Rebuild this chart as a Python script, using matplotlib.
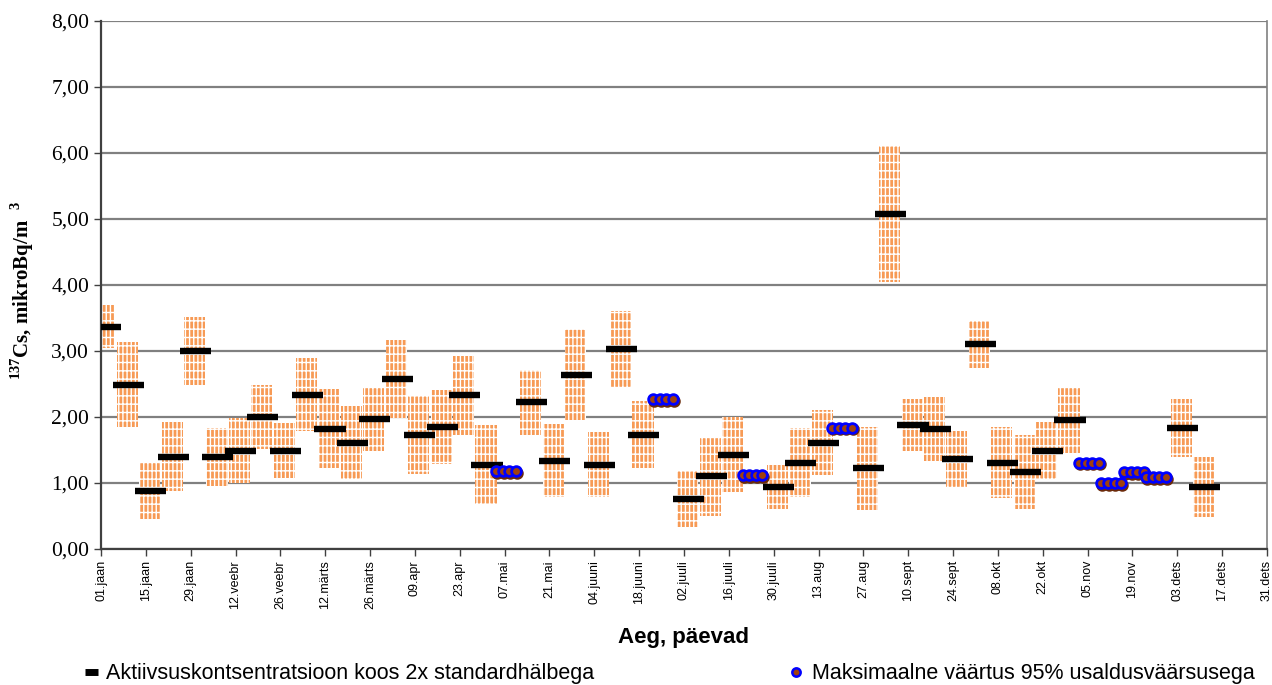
import matplotlib
matplotlib.use("Agg")
import matplotlib.pyplot as plt
from matplotlib.patches import Rectangle
from matplotlib.lines import Line2D

plt.rcParams["hatch.linewidth"] = 1.0
plt.rcParams["mathtext.fontset"] = "custom"
plt.rcParams["mathtext.rm"] = "Liberation Serif:bold"

# weekly samples: first day of sampling week (day of year, 0 = 1 Jan)
meas_start = [0, 7, 14, 21, 28, 35, 42, 49, 56, 63, 70, 77, 84, 91, 98, 105, 112, 119,
              133, 140, 147, 154, 161, 168, 182, 189, 196, 210, 217, 224, 238, 245,
              252, 259, 266, 273, 280, 287, 294, 301, 336, 343]
meas_value = [3.37, 2.49, 0.88, 1.40, 3.00, 1.40, 1.49, 2.00, 1.49, 2.34, 1.82, 1.61,
              1.97, 2.58, 1.73, 1.85, 2.33, 1.28, 2.22, 1.34, 2.64, 1.28, 3.03, 1.73,
              0.76, 1.10, 1.43, 0.94, 1.31, 1.61, 1.22, 5.07, 1.88, 1.82, 1.36, 3.10,
              1.31, 1.16, 1.49, 1.95, 1.83, 0.94]
meas_2sd = [0.33, 0.64, 0.43, 0.52, 0.52, 0.44, 0.49, 0.49, 0.42, 0.55, 0.60, 0.55,
            0.49, 0.59, 0.59, 0.56, 0.60, 0.60, 0.49, 0.55, 0.69, 0.49, 0.58, 0.51,
            0.42, 0.60, 0.57, 0.33, 0.52, 0.49, 0.63, 1.03, 0.40, 0.49, 0.43, 0.36,
            0.54, 0.56, 0.43, 0.49, 0.44, 0.46]

# weeks below detection limit: maximum value at 95 % confidence
max_start = [126, 175, 203, 231, 308, 315, 322, 329]
max_value = [1.18, 2.27, 1.12, 1.84, 1.31, 1.00, 1.16, 1.09]

tick_days = list(range(0, 365, 14))
tick_labels = ["01.jaan", "15.jaan", "29.jaan", "12.veebr", "26.veebr", "12.märts",
               "26.märts", "09.apr", "23.apr", "07.mai", "21.mai", "04.juuni",
               "18.juuni", "02.juuli", "16.juuli", "30.juuli", "13.aug", "27.aug",
               "10.sept", "24.sept", "08.okt", "22.okt", "05.nov", "19.nov",
               "03.dets", "17.dets", "31.dets"]

orange = "#F79A55"
blue = "#0000FF"
brown = "#A0400F"

fig = plt.figure(figsize=(12.72, 6.85), dpi=100)
ax = fig.add_axes([101 / 1272, 1 - 549 / 685, 1166 / 1272, 528 / 685])

# 2x standard deviation boxes
for d, v, e in zip(meas_start, meas_value, meas_2sd):
    box = Rectangle((d + 1.2 - 3.3, v - e), 6.6, 2 * e, facecolor=orange,
                    edgecolor="white", linewidth=0, hatch="||||--", zorder=2)
    ax.add_patch(box)

# measured activity concentration
bar_x0 = [d + 1.5 - 4.85 for d in meas_start]
bar_x1 = [d + 1.5 + 4.85 for d in meas_start]
ax.hlines(meas_value, bar_x0, bar_x1, colors="black", linewidth=4.6, zorder=3,
          capstyle="butt")

# maximum values drawn as a short chain of circles across the week
for d, v in zip(max_start, max_value):
    xs = [d + 0.4 + off for off in (-3.1, -1.0, 1.0, 3.1)]
    ax.plot([x + 0.3 for x in xs], [v - 0.025] * 4, "o", ms=7, mfc="#6B2A0A",
            mec="#6B2A0A", mew=2.0, zorder=4)
    ax.plot(xs, [v] * 4, "o", ms=7, mfc=brown, mec=blue, mew=2.0, zorder=5)

ax.set_xlim(0, 364)
ax.set_ylim(0, 8)
ax.set_yticks(range(0, 9))
ax.set_yticklabels([f"{i},00" for i in range(0, 9)], family="Liberation Serif",
                   fontsize=15.5)
ax.set_xticks(tick_days)
ax.set_xticklabels(tick_labels, rotation=90, family="Liberation Sans", fontsize=9)
ax.tick_params(axis="both", direction="out", length=5, color="#404040", width=1)
ax.tick_params(axis="x", pad=3)

ax.grid(axis="y", color="#808080", linewidth=1.6, zorder=1)
ax.set_axisbelow(True)
for side in ("left", "bottom"):
    ax.spines[side].set_color("#404040")
    ax.spines[side].set_linewidth(1.6)
ax.spines["right"].set_color("#808080")
ax.spines["right"].set_linewidth(1.2)
ax.spines["top"].set_visible(False)

ax.set_xlabel("Aeg, päevad", family="Liberation Sans", fontweight="bold",
              fontsize=16, labelpad=13)
ax.set_ylabel(r"$^{137}$Cs, mikroBq/m  $^{3}$", family="Liberation Serif",
              fontweight="bold", fontsize=15)
ax.yaxis.set_label_coords(-0.056, 0.49)

h1 = Line2D([], [], color="black", linewidth=5, solid_capstyle="butt")
h2 = Line2D([], [], color="none", marker="o", markersize=6, mfc=brown,
            mec=blue, mew=1.8)
fig.legend([h1], ["Aktiivsuskontsentratsioon koos 2x standardhälbega"],
           loc="center left", bbox_to_anchor=(66 / 1272, 1 - 674 / 685),
           frameon=False, handlelength=0.6, handletextpad=0.35,
           prop={"family": "Liberation Sans", "size": 15.5})
fig.legend([h2], ["Maksimaalne väärtus 95% usaldusväärsusega"],
           loc="center left", bbox_to_anchor=(768 / 1272, 1 - 674 / 685),
           frameon=False, handlelength=0.8, handletextpad=0.35,
           prop={"family": "Liberation Sans", "size": 15.5})

fig.savefig("out.png", dpi=100)
plt.close(fig)
